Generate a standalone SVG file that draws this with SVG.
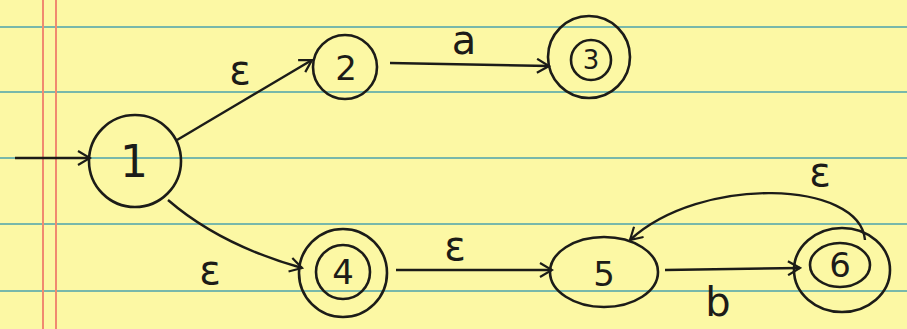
<svg xmlns="http://www.w3.org/2000/svg" width="907" height="329" viewBox="0 0 907 329">
<defs>
<style>
.rule{stroke:#78b8aa;stroke-width:2.2}
.margin{stroke:#f08a70;stroke-width:2}
.st{fill:none;stroke:#1c1c18;stroke-width:2.6}
.edge{fill:none;stroke:#1c1c18;stroke-width:2.4}
.lbl{font-family:"DejaVu Sans",sans-serif;font-size:40px;fill:#1c1c18;text-anchor:middle}
.num{font-family:"DejaVu Sans",sans-serif;font-size:34px;fill:#1c1c18;text-anchor:middle;dominant-baseline:central}
</style>
<marker id="arr" markerWidth="16" markerHeight="16" refX="14" refY="8" orient="auto" markerUnits="userSpaceOnUse">
<path d="M2,1 L14,8 L2,15" fill="none" stroke="#1c1c18" stroke-width="2.2"/>
</marker>
</defs>
<rect width="907" height="329" fill="#fcf8a4"/>
<g id="paper">
<line class="rule" x1="0" y1="27" x2="907" y2="27"/>
<line class="rule" x1="0" y1="92" x2="907" y2="92"/>
<line class="rule" x1="0" y1="158" x2="907" y2="158"/>
<line class="rule" x1="0" y1="224" x2="907" y2="224"/>
<line class="rule" x1="0" y1="291" x2="907" y2="291"/>
<line class="margin" x1="43" y1="0" x2="43" y2="329"/>
<line class="margin" x1="56" y1="0" x2="56" y2="329"/>
</g>
<g id="connectors">
<path class="edge" d="M15,158 L90,158" marker-end="url(#arr)"/>
<path class="edge" d="M177,140 L312,60" marker-end="url(#arr)"/>
<path class="edge" d="M390,63 L549,66" marker-end="url(#arr)"/>
<path class="edge" d="M168,200 Q220,245 302,268" marker-end="url(#arr)"/>
<path class="edge" d="M396,270 L552,270" marker-end="url(#arr)"/>
<path class="edge" d="M665,270 L800,268" marker-end="url(#arr)"/>
<path class="edge" d="M865,240 C860,180 700,175 630,240" marker-end="url(#arr)"/>
<text class="lbl" x="240" y="84">ε</text>
<text class="lbl" x="464" y="54">a</text>
<text class="lbl" x="210" y="284">ε</text>
<text class="lbl" x="455" y="260">ε</text>
<text class="lbl" x="718" y="316">b</text>
<text class="lbl" x="820" y="186">ε</text>
</g>
<g id="n1">
<circle class="st" cx="135" cy="161" r="46"/>
<text class="num" x="134" y="161" style="font-size:44px">1</text>
</g>
<g id="n2">
<circle class="st" cx="345" cy="67" r="32"/>
<text class="num" x="346" y="68">2</text>
</g>
<g id="n3">
<circle class="st" cx="589" cy="57" r="41"/>
<circle class="st" cx="591" cy="60" r="20"/>
<text class="num" x="591" y="60" style="font-size:26px">3</text>
</g>
<g id="n4">
<circle class="st" cx="343" cy="273" r="44"/>
<circle class="st" cx="343" cy="272" r="27"/>
<text class="num" x="343" y="272">4</text>
</g>
<g id="n5">
<ellipse class="st" cx="604" cy="272" rx="54" ry="35"/>
<text class="num" x="604" y="274">5</text>
</g>
<g id="n6">
<ellipse class="st" cx="842" cy="270" rx="48" ry="42"/>
<ellipse class="st" cx="840" cy="265" rx="30" ry="22"/>
<text class="num" x="840" y="265">6</text>
</g>
</svg>
